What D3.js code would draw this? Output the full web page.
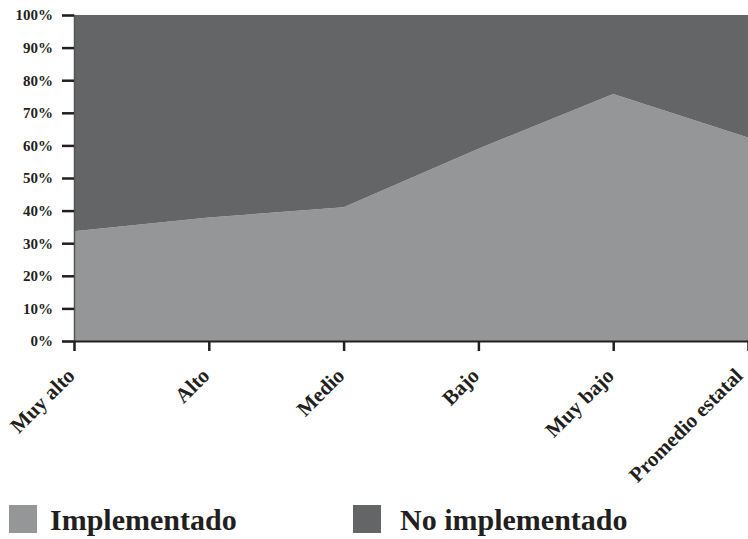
<!DOCTYPE html>
<html><head><meta charset="utf-8">
<script src="https://cdn.jsdelivr.net/npm/d3@7"></script>
<style>body{margin:0;background:#fff}svg{display:block}</style>
</head><body><svg id="c" width="748" height="539"></svg>
<script>
const categories = ["Muy alto","Alto","Medio","Bajo","Muy bajo","Promedio estatal"];
const implementado = [33.7, 37.9, 41.0, 59.0, 75.8, 62.4];
const noImplementado = implementado.map(v => 100 - v);
const seriesNames = ["Implementado","No implementado"];
const colors = ["#959698","#646567"];
const yTicks = [0,10,20,30,40,50,60,70,80,90,100];

const svg = d3.select("#c");
const font = "'Liberation Serif', 'Times New Roman', serif";
const x = d3.scalePoint().domain(categories).range([74, 748]);
const y = d3.scaleLinear().domain([0,100]).range([341, 15]);

const rows = categories.map((c,i)=>({cat:c, "Implementado":implementado[i], "No implementado":noImplementado[i]}));
const stacked = d3.stack().keys(seriesNames)(rows);
const area = d3.area().x(d=>x(d.data.cat)).y0(d=>y(d[0])).y1(d=>y(d[1]));
svg.append("g").selectAll("path").data(stacked).join("path")
  .attr("d", area).attr("fill",(d,i)=>colors[i]);

// y axis
const ya = svg.append("g").attr("transform","translate(74,0)")
  .call(d3.axisLeft(y).tickValues(yTicks).tickFormat(d=>d+"%").tickSize(12).tickPadding(9));
ya.select(".domain").attr("stroke","#555").attr("stroke-width",1.5);
ya.selectAll(".tick line").attr("stroke","#231f20").attr("stroke-width",2.5);
ya.selectAll("text").attr("font-family",font).attr("font-weight","bold").attr("font-size",15).attr("fill","#231f20");

// x axis
const xa = svg.append("g").attr("transform","translate(0,341)")
  .call(d3.axisBottom(x).tickSize(10).tickSizeOuter(0));
xa.select(".domain").attr("stroke","#231f20").attr("stroke-width",2);
xa.selectAll(".tick line").attr("stroke","#231f20").attr("stroke-width",2.5);
xa.selectAll("text").remove();
svg.append("g").selectAll("text").data(categories).join("text")
  .attr("transform", d=>`translate(${Math.min(x(d)+2, 744)},${377}) rotate(-45)`)
  .attr("text-anchor","end")
  .attr("font-family",font).attr("font-weight","bold").attr("font-size",21).attr("fill","#231f20")
  .text(d=>d);

// legend
const legX = [9, 353];
const lg = svg.append("g").selectAll("g").data(seriesNames).join("g")
  .attr("transform",(d,i)=>`translate(${legX[i]},505)`);
lg.append("rect").attr("width",28).attr("height",28).attr("fill",(d,i)=>colors[i]);
lg.append("text").attr("x",(d,i)=>i===0?41:47).attr("y",25)
  .attr("font-family",font).attr("font-weight","bold").attr("font-size",30).attr("fill","#231f20")
  .text(d=>d);
</script></body></html>
